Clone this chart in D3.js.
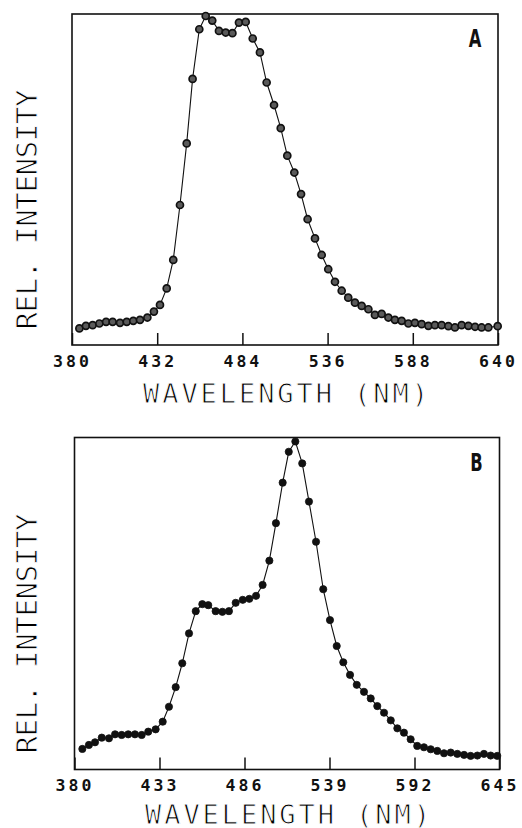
<!DOCTYPE html>
<html>
<head>
<meta charset="utf-8">
<script src="https://cdn.jsdelivr.net/npm/d3@7"></script>
<style>
  body { margin: 0; background: #fff; }
  svg { display: block; }
</style>
</head>
<body>
<svg id="viz" width="522" height="828"></svg>
<script>
// panel A: wavelength (nm) and relative intensity
const wlA = [384.5, 388.5, 392.6, 396.7, 400.8, 404.8, 409.3, 413.4, 417.4, 421.5,
  426.0, 430.0, 433.7, 437.8, 441.8, 445.9, 450.0, 453.6, 457.7, 461.6,
  465.6, 469.7, 473.8, 477.9, 481.9, 486.0, 490.3, 494.7, 498.8, 503.3,
  507.4, 511.4, 515.7, 519.8, 523.8, 528.3, 532.4, 536.4, 540.5, 544.6,
  548.6, 552.7, 556.8, 560.9, 564.9, 569.0, 573.1, 577.1, 581.2, 585.3,
  589.3, 593.4, 597.5, 601.5, 605.6, 609.7, 613.7, 617.8, 621.9, 626.0,
  630.0, 634.1, 639.8]
const intA = [5.0, 5.8, 6.0, 6.5, 7.0, 7.0, 6.7, 7.0, 7.3, 7.6,
  8.3, 10.1, 12.1, 17.1, 25.7, 42.3, 60.9, 80.4, 95.4, 99.4,
  98.0, 94.9, 94.4, 94.2, 97.4, 97.6, 92.6, 88.4, 79.3, 72.5,
  65.5, 57.2, 52.1, 45.6, 38.0, 32.2, 27.2, 22.9, 19.1, 16.4,
  14.3, 12.8, 11.8, 10.8, 9.1, 9.4, 8.3, 7.6, 7.3, 6.5,
  6.7, 6.3, 5.8, 6.0, 6.0, 5.7, 5.3, 6.0, 5.8, 5.5,
  5.3, 5.3, 5.7]
const ticksA = [380, 432, 484, 536, 588, 640]

// panel B
const wlB = [384.9, 389.0, 392.8, 397.0, 401.5, 405.3, 409.4, 413.5, 417.7, 421.9,
  426.0, 430.6, 435.0, 438.9, 443.1, 447.2, 451.4, 455.6, 459.7, 463.4,
  468.0, 472.2, 476.3, 480.5, 484.9, 489.0, 493.2, 497.3, 501.5, 505.6,
  509.8, 513.6, 517.7, 522.0, 526.2, 530.6, 535.1, 539.3, 543.5, 547.6,
  551.8, 556.0, 560.5, 564.7, 568.8, 573.0, 577.2, 581.3, 585.4, 589.6,
  593.7, 597.9, 602.1, 606.2, 610.4, 614.6, 618.7, 622.9, 627.0, 631.2,
  635.3, 639.5, 643.6]
const intB = [6.2, 7.4, 8.2, 9.6, 9.4, 10.6, 10.4, 10.6, 10.6, 10.4,
  11.4, 12.1, 14.4, 18.9, 24.8, 32.0, 41.0, 47.7, 49.8, 49.5,
  47.7, 47.5, 47.7, 50.2, 51.1, 51.4, 52.3, 55.6, 62.9, 74.2,
  86.4, 95.7, 98.8, 92.2, 80.7, 68.6, 54.3, 45.0, 37.2, 32.3,
  28.5, 25.5, 23.4, 21.4, 19.1, 17.1, 14.8, 12.4, 11.1, 9.1,
  7.1, 6.7, 6.1, 5.6, 4.9, 5.1, 4.7, 4.4, 4.1, 4.2,
  4.7, 4.2, 4.1]
const ticksB = [380, 433, 486, 539, 592, 645]

const svg = d3.select("#viz")
svg.append("rect").attr("width", 522).attr("height", 828).attr("fill", "#fff")

// thin plotter-like lettering: white outline eats into the glyph strokes
function thinText(sel, size) {
  sel.style("font-family", "'DejaVu Sans Mono', monospace")
    .style("font-size", size + "px")
    .attr("fill", "#000")
    .attr("stroke", "#fff").attr("stroke-width", 0.9)
    .attr("opacity", 0.999)
}

function drawPanel(p) {
  const x = d3.scaleLinear().domain([p.ticks[0], p.ticks[p.ticks.length - 1]]).range([p.left, p.right])
  const y = d3.scaleLinear().domain([0, 100]).range([p.bottom, p.top])
  const g = svg.append("g")

  // frame
  g.append("rect")
    .attr("x", p.left).attr("y", p.top)
    .attr("width", p.right - p.left).attr("height", p.bottom - p.top)
    .attr("fill", "none").attr("stroke", "#111").attr("stroke-width", 1.6)

  // x axis, ticks pointing inward
  const ax = g.append("g")
    .attr("transform", `translate(0,${p.bottom})`)
    .call(d3.axisBottom(x).tickValues(p.ticks).tickSizeInner(-12).tickSizeOuter(0).tickPadding(10).tickFormat(d3.format("d")))
  ax.select(".domain").remove()
  ax.selectAll("line").attr("stroke", "#111").attr("stroke-width", 1.5)
  ax.selectAll("text")
    .attr("fill", "#111")
    .style("font-family", "'DejaVu Sans Mono', monospace")
    .style("font-weight", "bold")
    .style("font-size", "16.5px")
    .style("letter-spacing", "3px")

  const line = d3.line().x(d => x(d[0])).y(d => y(d[1]))
  const pts = p.wl.map((w, i) => [w, p.val[i]])
  g.append("path").datum(pts)
    .attr("d", line).attr("fill", "none").attr("stroke", "#111").attr("stroke-width", 1.1)

  g.selectAll("circle").data(pts).join("circle")
    .attr("cx", d => x(d[0])).attr("cy", d => y(d[1]))
    .attr("r", p.r)
    .attr("fill", p.dotFill).attr("stroke", "#111").attr("stroke-width", p.dotStroke)

  // panel letter, narrow bold
  g.append("text")
    .attr("transform", `translate(${p.right - 23},${p.top + 33}) scale(0.68,1)`)
    .attr("text-anchor", "middle")
    .style("font-family", "'DejaVu Sans', sans-serif")
    .style("font-weight", "bold").style("font-size", "24px")
    .attr("fill", "#111")
    .text(p.letter)

  // axis titles
  const cx = (p.left + p.right) / 2
  g.append("text")
    .attr("x", cx - 142).attr("y", p.bottom + p.titleDy)
    .attr("textLength", 285).attr("lengthAdjust", "spacing")
    .call(thinText, 27)
    .text("WAVELENGTH (NM)")

  const cy = (p.top + p.bottom) / 2 + 30
  g.append("text")
    .attr("transform", `translate(37,${cy + 120}) rotate(-90)`)
    .attr("textLength", 240).attr("lengthAdjust", "spacing")
    .call(thinText, 29)
    .text("REL. INTENSITY")
}

drawPanel({ wl: wlA, val: intA, ticks: ticksA, left: 72, right: 498, top: 14, bottom: 345,
  letter: "A", r: 3.5, dotFill: "#5a5a5a", dotStroke: 1.7, titleDy: 58 })
drawPanel({ wl: wlB, val: intB, ticks: ticksB, left: 74.5, right: 499.5, top: 437.5, bottom: 769.5,
  letter: "B", r: 3.6, dotFill: "#111", dotStroke: 0.8, titleDy: 54 })
</script>
</body>
</html>
